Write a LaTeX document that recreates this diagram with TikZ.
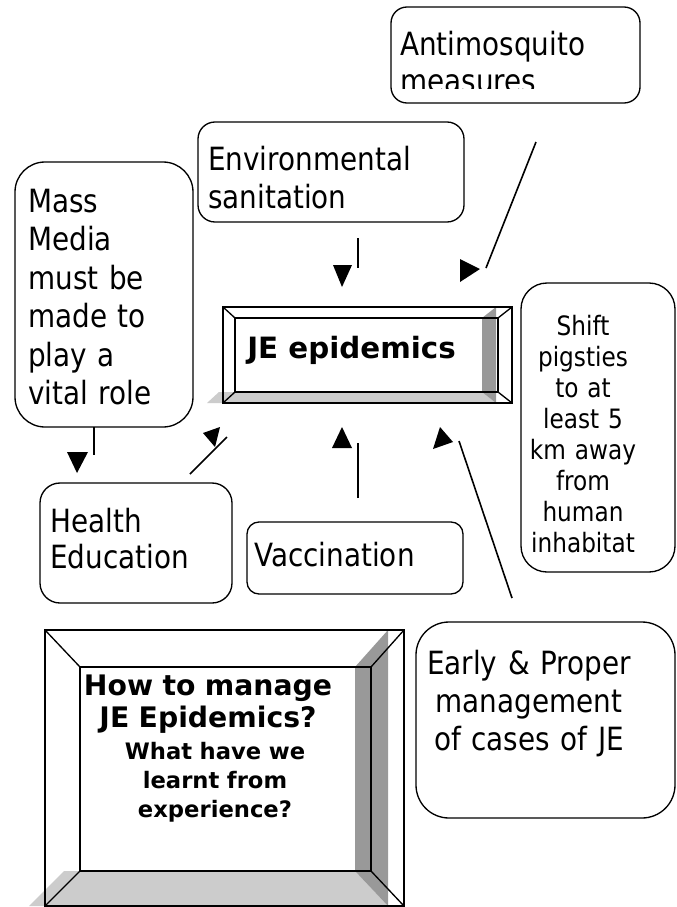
\documentclass[tikz,border=0pt]{standalone}
\usepackage{fontspec}
\setmainfont{DejaVu Sans}[FakeStretch=0.87]
\newfontfamily\boldfam{DejaVu Sans}
\definecolor{lg}{HTML}{CCCCCC}
\definecolor{dg}{HTML}{999999}
\begin{document}
\begin{tikzpicture}[x=0.75pt,y=-0.75pt,
  rbox/.style={draw, line width=1pt, rectangle, inner sep=0pt},
  bev/.style={draw, line width=1pt},
  conn/.style={line width=1.2pt},
  head/.style={fill=black},
  ltxt/.style={inner sep=0pt, align=left, anchor=base west},
  ctxt/.style={inner sep=0pt, align=center, anchor=base},
  reg/.style={font=\fontsize{24}{#1}\selectfont},
]
\fill[white] (0,0) rectangle (676,907);
\useasboundingbox (0,0) rectangle (676,907);

% ---------- rounded boxes ----------
\node[rbox, rounded corners=12pt, minimum width=186.75pt, minimum height=72pt] (anti) at (515.5,55) {};
\begin{scope}
  \clip (391,7) rectangle (640,88);
  \node[ltxt, text width=180pt, reg=27.75pt] (antitxt) at (400,55) {Antimosquito\\measures};
\end{scope}

\node[rbox, rounded corners=12.75pt, minimum width=199.5pt, minimum height=75pt] (env) at (331,172) {};
\node[ltxt, text width=195pt, reg=28.5pt] (envtxt) at (208,170) {Environmental\\sanitation};

\node[rbox, rounded corners=22.5pt, minimum width=133.5pt, minimum height=198.75pt] (mass) at (104,294.5) {};
\node[ltxt, text width=130pt, reg=28.9pt] (masstxt) at (28,212) {Mass\\Media\\must be\\made to\\play a\\vital role};

\node[rbox, rounded corners=15pt, minimum width=144pt, minimum height=90pt] (health) at (136,543) {};
\node[ltxt, text width=140pt, reg=27pt] (healthtxt) at (50,532) {Health\\Education};

\node[rbox, rounded corners=9pt, minimum width=162pt, minimum height=54pt] (vacc) at (355,558) {};
\node[ltxt, text width=160pt, reg=28pt] (vacctxt) at (254,566) {Vaccination};

\node[rbox, rounded corners=19.5pt, minimum width=115.5pt, minimum height=216.75pt] (shift) at (598,427.5) {};
\node[ctxt, text width=115pt, font=\fontsize{20}{23.25}\selectfont] (shifttxt) at (583,335)
  {Shift\\pigsties\\to at\\least 5\\km away\\from\\human\\inhabitat};

\node[rbox, rounded corners=24.75pt, minimum width=194.25pt, minimum height=147pt] (early) at (545.5,720) {};
\node[ctxt, text width=190pt, reg=28.5pt] (earlytxt) at (529,674) {Early \& Proper\\management\\of cases of JE};

% ---------- JE epidemics bevel ----------
\fill[lg] (207,403)--(496,403)--(482,392)--(219,392)--cycle;
\fill[dg] (496,307)--(496,403)--(482,392)--(482,318)--cycle;
\draw[bev] (223,307) rectangle (512,403);
\draw[bev] (235,318) rectangle (498,392);
\draw[bev] (223,307)--(235,318) (512,307)--(498,318) (512,403)--(498,392) (223,403)--(235,392);
\node[ltxt, font=\boldfam\bfseries\fontsize{22}{26}\selectfont] (je) at (247,358) {JE epidemics};

% ---------- title bevel ----------
\fill[lg] (29,906)--(388,906)--(355,871)--(64,871)--cycle;
\fill[dg] (388,630)--(388,906)--(355,871)--(355,667)--cycle;
\draw[bev] (45,630) rectangle (404,906);
\draw[bev] (80,667) rectangle (371,871);
\draw[bev] (45,630)--(80,667) (404,630)--(371,667) (404,906)--(371,871) (45,906)--(80,871);
\node[ctxt, text width=260pt, font=\boldfam\bfseries\fontsize{21.2}{24}\selectfont] (title) at (208,695) {How to manage\\JE Epidemics?};
\node[ctxt, text width=200pt, font=\boldfam\bfseries\fontsize{17}{22}\selectfont] (sub) at (215,759) {What have we\\learnt from\\experience?};

% ---------- connectors ----------
\coordinate (c1a) at (536,142); \coordinate (c1b) at (486,268);
\draw[conn] (c1a)--(c1b);
\fill[head] (460,259)--(480,269)--(460,282)--cycle;

\coordinate (c2a) at (358,238); \coordinate (c2b) at (358,268);
\draw[conn] (c2a)--(c2b);
\fill[head] (333,265)--(352,265)--(342,287)--cycle;

\coordinate (c3a) at (94,427); \coordinate (c3b) at (94,455);
\draw[conn] (c3a)--(c3b);
\fill[head] (67,452)--(88,452)--(77,473)--cycle;

\coordinate (c4a) at (190,474); \coordinate (c4b) at (227,437);
\draw[conn] (c4a)--(c4b);
\fill[head] (220,427)--(203,433)--(215,447)--cycle;

\coordinate (c5a) at (358,498); \coordinate (c5b) at (358,443);
\draw[conn] (c5a)--(c5b);
\fill[head] (342,427)--(332,448)--(352,448)--cycle;

\coordinate (c6a) at (512,598); \coordinate (c6b) at (459,441);
\draw[conn] (c6a)--(c6b);
\fill[head] (440,427)--(433,449)--(453,442)--cycle;
\end{tikzpicture}
\end{document}
